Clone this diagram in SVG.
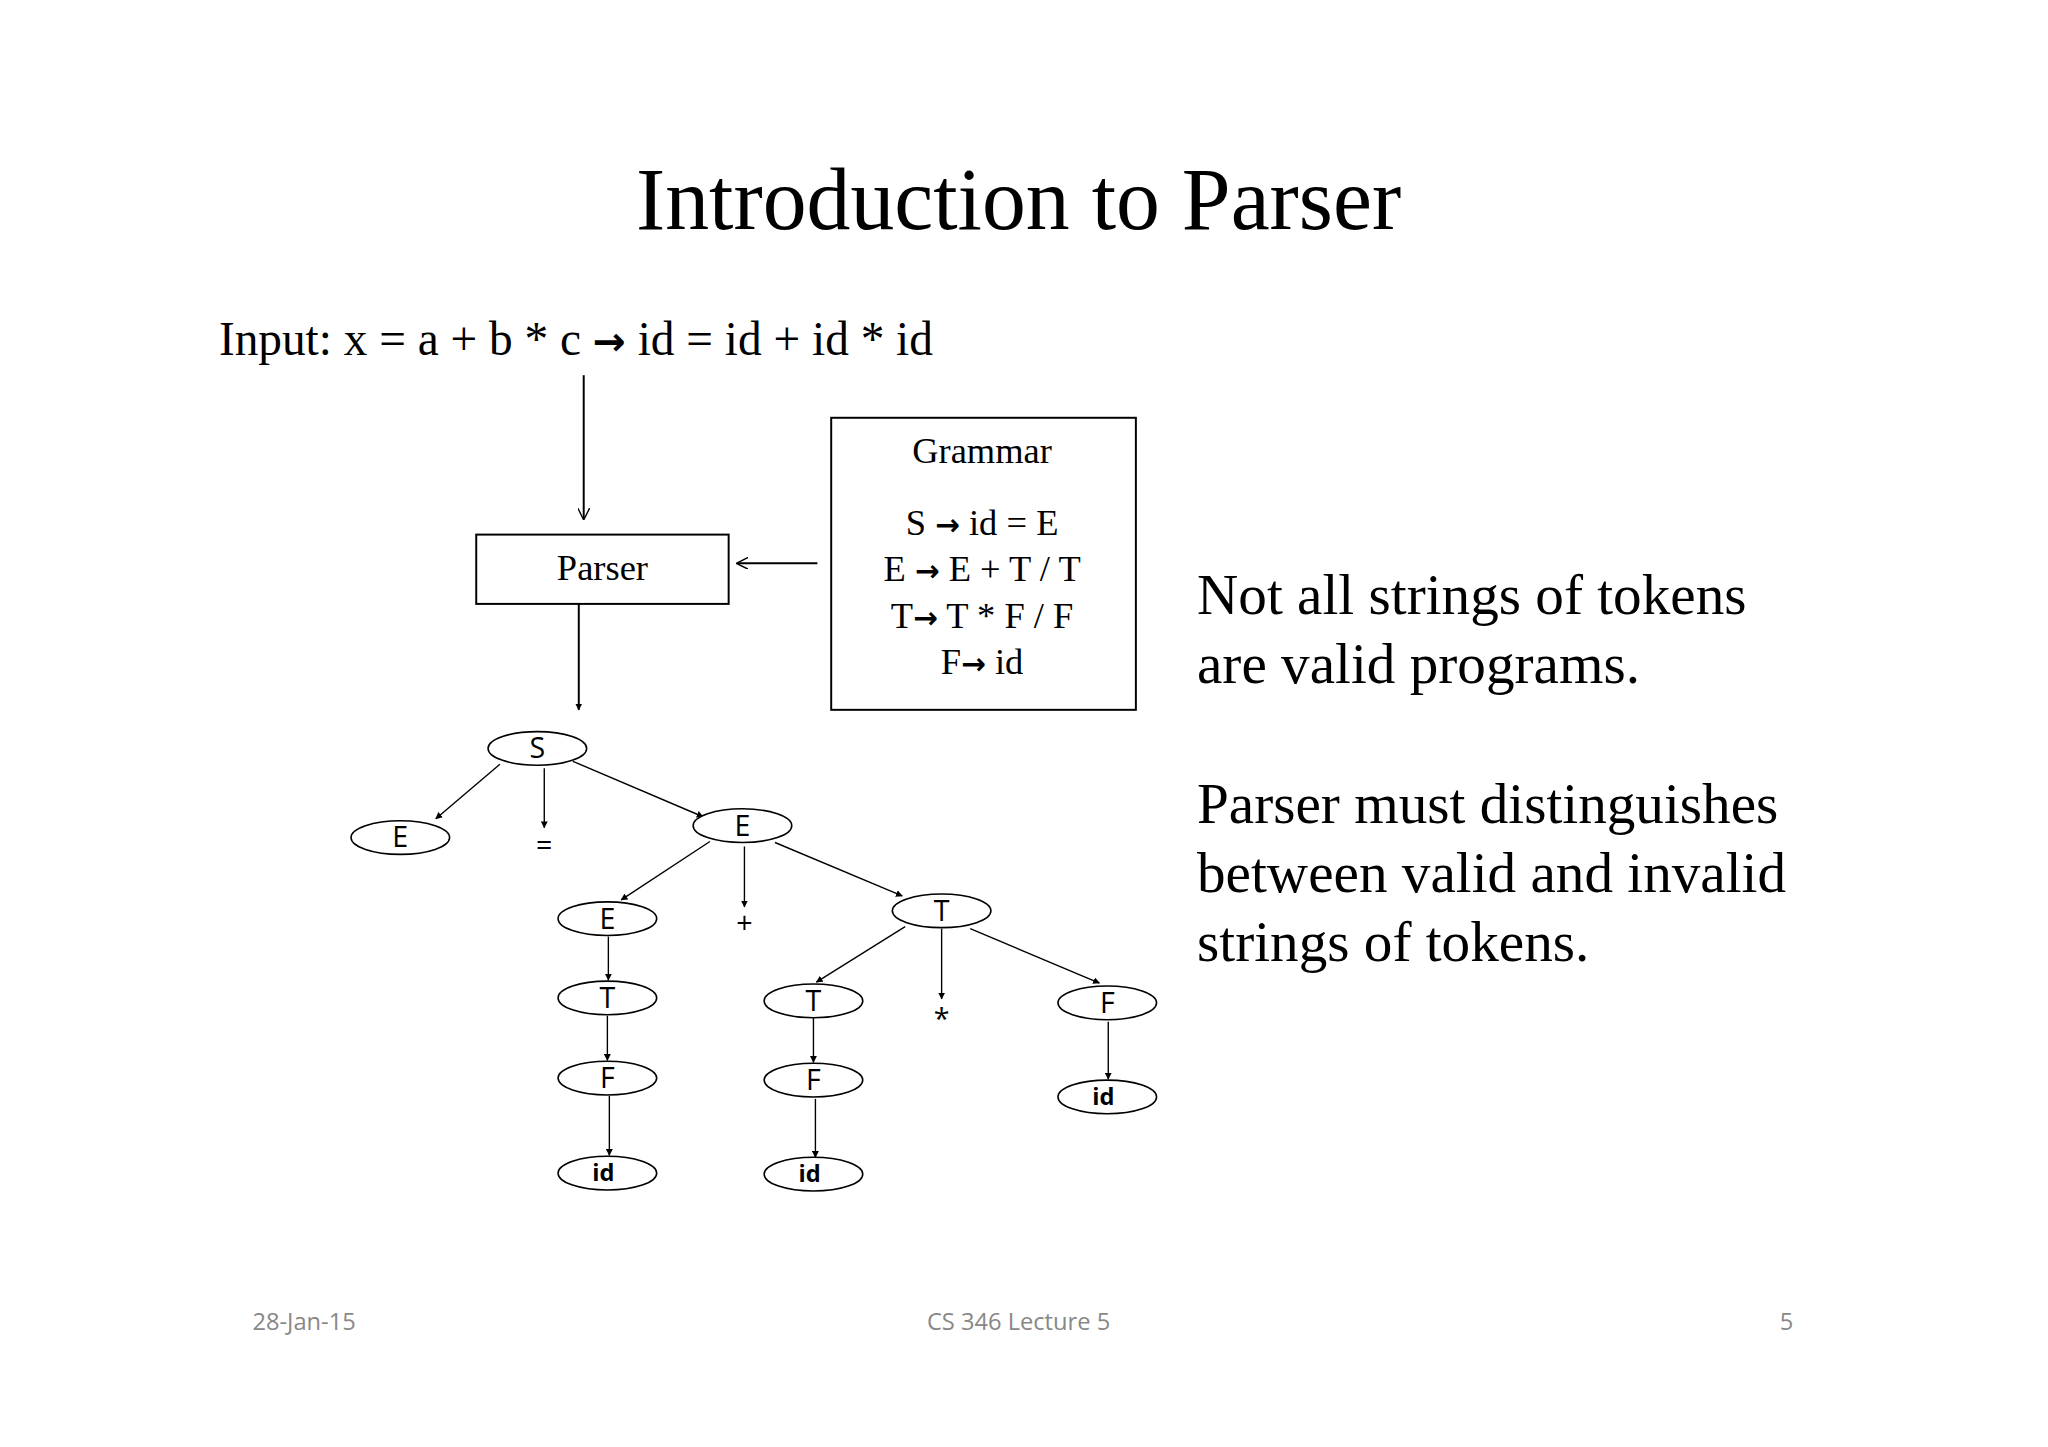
<svg xmlns="http://www.w3.org/2000/svg" width="2048" height="1447" viewBox="0 0 2048 1447">
<defs>
<marker id="ah" viewBox="0 0 10 10" refX="9" refY="5" markerWidth="7" markerHeight="7" orient="auto" markerUnits="userSpaceOnUse"><path d="M0,0 L10,5 L0,10 z" fill="#000"/></marker>
<marker id="ah2" viewBox="0 0 10 10" refX="9" refY="5" markerWidth="12" markerHeight="12" orient="auto" markerUnits="userSpaceOnUse"><path d="M0,0 L10,5 L0,10" fill="none" stroke="#000" stroke-width="1.2"/></marker>
<style>
.serif{font-family:"Liberation Serif","Times New Roman",serif;fill:#000}
.ar{font-family:"DejaVu Sans",sans-serif;font-weight:bold}
.n ellipse{fill:#fff;stroke:#000;stroke-width:1.6}
.n text{font-family:"Open Sans","Noto Sans",sans-serif;font-size:29px;text-anchor:middle;fill:#000}
.n text.id{font-size:24px;font-weight:bold}
.e line{stroke:#000;stroke-width:1.4;marker-end:url(#ah)}
.foot{font-family:"Open Sans","Noto Sans",sans-serif;font-size:24px;fill:#888}
</style>
</defs>
<rect width="2048" height="1447" fill="#fff"/>
<g transform="scale(0.986,0.99)">
<text class="serif" x="1033" y="231" font-size="89" text-anchor="middle">Introduction to Parser</text>
<text class="serif" x="222" y="359" font-size="48">Input: x = a + b * c <tspan class="ar" font-size="40">→</tspan> id = id + id * id</text>
<g id="parser"><rect x="483" y="540" width="256" height="70" fill="none" stroke="#000" stroke-width="2"/><text class="serif" x="611" y="586" font-size="37" text-anchor="middle">Parser</text></g>
<g id="grammar"><rect x="843" y="422" width="309" height="295" fill="none" stroke="#000" stroke-width="2"/>
<text class="serif" font-size="37" text-anchor="middle"><tspan x="996" y="468">Grammar</tspan><tspan x="996" y="540">S <tspan class="ar" font-size="30">→</tspan> id = E</tspan><tspan x="996" y="587">E <tspan class="ar" font-size="30">→</tspan> E + T / T</tspan><tspan x="996" y="634">T<tspan class="ar" font-size="30">→</tspan> T * F / F</tspan><tspan x="996" y="681">F<tspan class="ar" font-size="30">→</tspan> id</tspan></text></g>
<text class="serif" font-size="58"><tspan x="1214" y="620">Not all strings of tokens</tspan><tspan x="1214" y="690">are valid programs.</tspan><tspan x="1214" y="831">Parser must distinguishes</tspan><tspan x="1214" y="901">between valid and invalid</tspan><tspan x="1214" y="971">strings of tokens.</tspan></text>
<g id="connectors">
<line x1="592" y1="379" x2="592" y2="524" stroke="#000" stroke-width="2" marker-end="url(#ah2)"/>
<line x1="829" y1="569" x2="748" y2="569" stroke="#000" stroke-width="2" marker-end="url(#ah2)"/>
<line x1="587" y1="610" x2="587" y2="717" stroke="#000" stroke-width="2" marker-end="url(#ah)"/>
<g class="e">
<line x1="507" y1="772" x2="442" y2="827"/><line x1="552" y1="776" x2="552" y2="836"/><line x1="581" y1="769" x2="713" y2="825"/>
<line x1="720" y1="850" x2="630" y2="909"/><line x1="755" y1="855" x2="755" y2="916"/><line x1="786" y1="851" x2="915" y2="905"/>
<line x1="617" y1="946" x2="617" y2="990"/><line x1="616" y1="1026" x2="616" y2="1071"/><line x1="618" y1="1107" x2="618" y2="1167"/>
<line x1="918" y1="936" x2="828" y2="992"/><line x1="955" y1="938" x2="955" y2="1009"/><line x1="984" y1="938" x2="1115" y2="993"/>
<line x1="825" y1="1028" x2="825" y2="1073"/><line x1="827" y1="1110" x2="827" y2="1169"/><line x1="1124" y1="1032" x2="1124" y2="1090"/>
</g></g>
<g id="S" class="n"><ellipse cx="545" cy="756" rx="50" ry="17"/><text x="545" y="766">S</text></g>
<g id="E1" class="n"><ellipse cx="406" cy="846" rx="50" ry="17"/><text x="406" y="856">E</text></g>
<g id="eq" class="n"><text x="552" y="864">=</text></g>
<g id="E2" class="n"><ellipse cx="753" cy="834" rx="50" ry="17"/><text x="753" y="844">E</text></g>
<g id="E3" class="n"><ellipse cx="616" cy="928" rx="50" ry="17"/><text x="616" y="938">E</text></g>
<g id="plus" class="n"><text x="755" y="942">+</text></g>
<g id="T1" class="n"><ellipse cx="955" cy="920" rx="50" ry="17"/><text x="955" y="930">T</text></g>
<g id="T2" class="n"><ellipse cx="616" cy="1008" rx="50" ry="17"/><text x="616" y="1018">T</text></g>
<g id="T3" class="n"><ellipse cx="825" cy="1011" rx="50" ry="17"/><text x="825" y="1021">T</text></g>
<g id="star" class="n"><text x="955" y="1039">*</text></g>
<g id="F1" class="n"><ellipse cx="1123" cy="1013" rx="50" ry="17"/><text x="1123" y="1023">F</text></g>
<g id="F2" class="n"><ellipse cx="616" cy="1089" rx="50" ry="17"/><text x="616" y="1099">F</text></g>
<g id="F3" class="n"><ellipse cx="825" cy="1091" rx="50" ry="17"/><text x="825" y="1101">F</text></g>
<g id="id1" class="n"><ellipse cx="616" cy="1185" rx="50" ry="17"/><text class="id" x="612" y="1193">id</text></g>
<g id="id2" class="n"><ellipse cx="825" cy="1186" rx="50" ry="17"/><text class="id" x="821" y="1194">id</text></g>
<g id="id3" class="n"><ellipse cx="1123" cy="1108" rx="50" ry="17"/><text class="id" x="1119" y="1116">id</text></g>
<text class="foot" x="256" y="1343">28-Jan-15</text>
<text class="foot" x="1033" y="1343" text-anchor="middle">CS 346 Lecture 5</text>
<text class="foot" x="1805" y="1343">5</text>
</g>
</svg>
